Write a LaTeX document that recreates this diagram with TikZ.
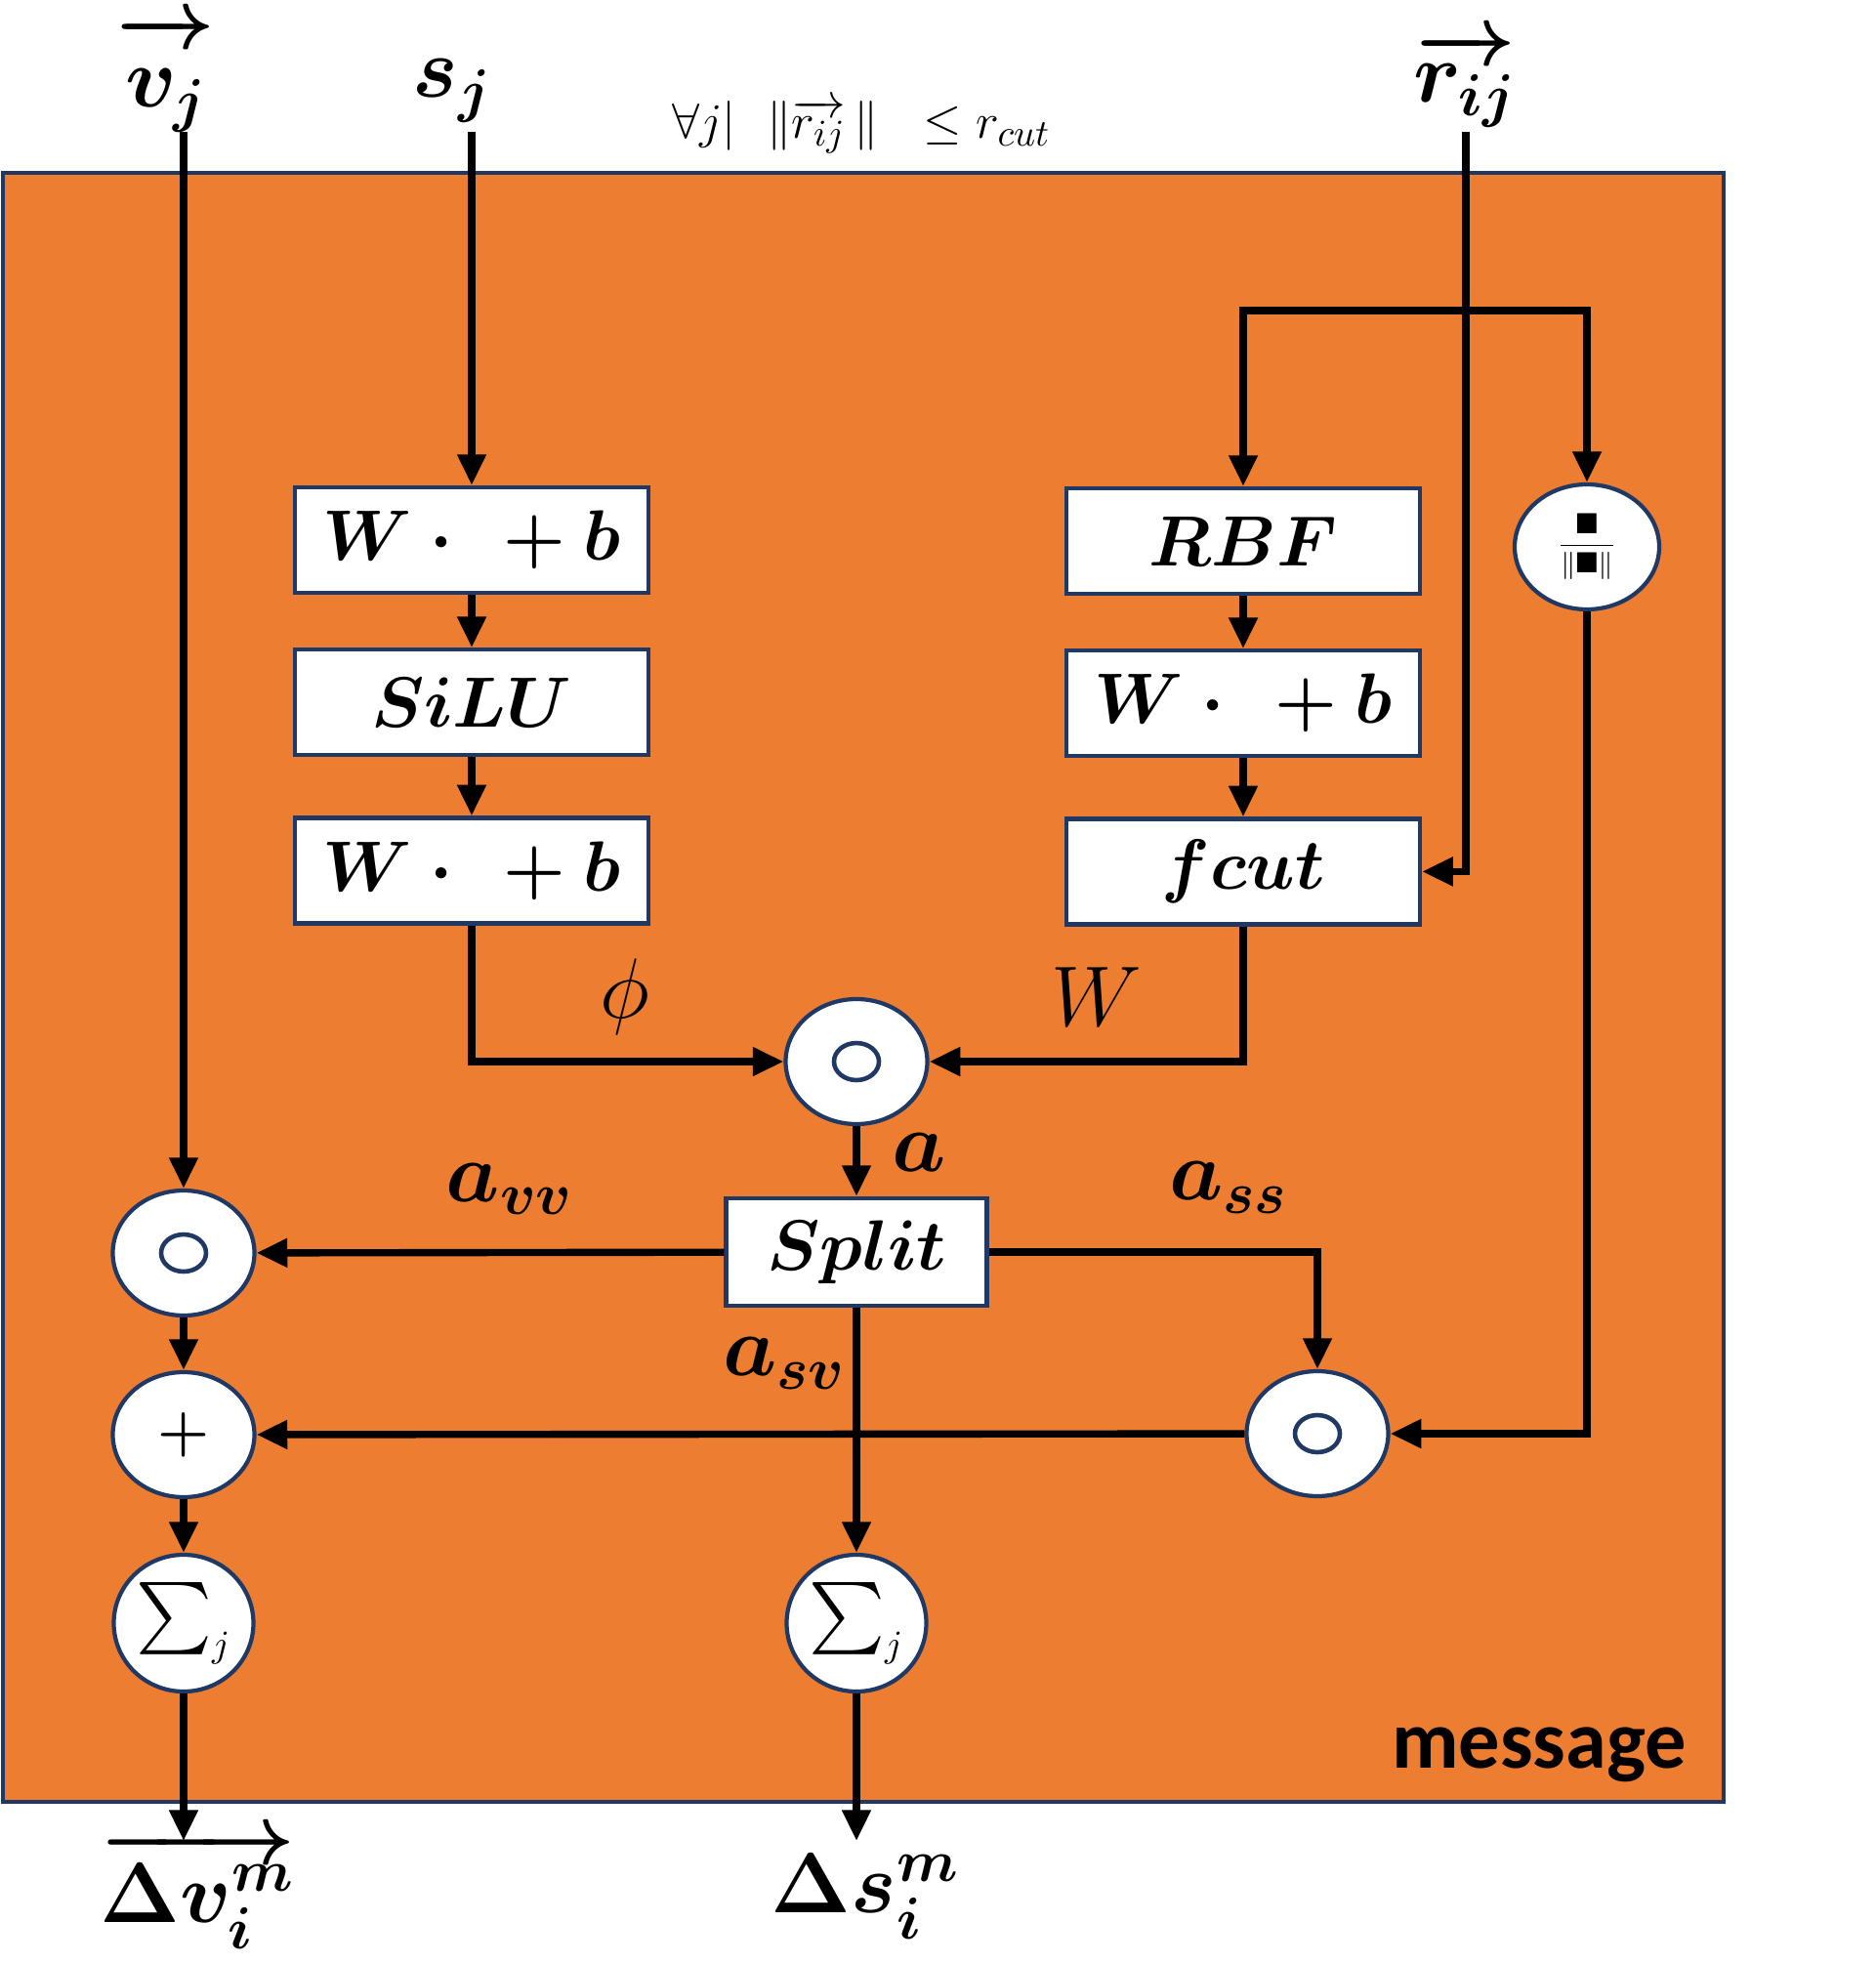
\documentclass[tikz,border=0pt]{standalone}
\usepackage{amsmath, amssymb}
\usepackage{fontspec}
\newfontfamily\msgfont{Carlito}
\usetikzlibrary{arrows.meta, positioning, shapes.geometric}

\definecolor{msgorange}{HTML}{ED7D31}
\definecolor{navy}{HTML}{1F3864}

\begin{document}
\begin{tikzpicture}[
    >={Triangle[length=9pt, width=8pt]},
    block/.style={rectangle, draw=navy, fill=white, line width=1.2pt, minimum width=3.62cm, minimum height=1.08cm, inner sep=0, font=\fontsize{20}{24}\selectfont\boldmath},
    op/.style={ellipse, draw=navy, fill=white, line width=1.2pt, minimum width=1.45cm, minimum height=1.28cm, inner sep=0},
    hadamard/.style={op, path picture={\draw[navy, line width=1.3pt] (path picture bounding box.center) ellipse (0.23cm and 0.19cm);}},
    sumop/.style={op, minimum width=1.43cm, minimum height=1.40cm, font=\fontsize{21}{23}\selectfont},
    flow/.style={line width=2.1pt, ->},
    sym/.style={font=\fontsize{25}{30}\selectfont\boldmath, inner sep=0},
    thin sym/.style={font=\fontsize{25}{30}\selectfont, inner sep=0},
    io sym/.style={font=\fontsize{23}{28}\selectfont\boldmath, inner sep=0, anchor=base}
]
    \useasboundingbox (0,0) rectangle (19.2,-20.1);

    % message block
    \draw[fill=msgorange, draw=navy, line width=1.2pt] (0.03,-1.77) rectangle (17.65,-18.45);
    \node[anchor=base, font=\msgfont\bfseries\fontsize{24}{28}\selectfont] (msg) at (15.76,-18.10) {message};

    % Inputs
    \node[io sym] (vj) at (1.70,-1.10) {$\overrightarrow{\vphantom{b}v_j}$};
    \node[sym, anchor=base] (sj) at (4.63,-1.00) {$s_j$};
    \node[io sym] (rij) at (15.00,-1.05) {$\overrightarrow{r_{ij}}$};
    \node[anchor=base, font=\fontsize{15}{17}\selectfont] (cutoff) at (8.82,-1.42) {$\forall j|\ \ \|\overrightarrow{r_{ij}}\,\|\ \ \le r_{cut}$};
    \coordinate (vin) at (1.88,-1.35);
    \coordinate (sin) at (4.83,-1.35);
    \coordinate (rin) at (15.01,-1.35);
    \coordinate (rsplit) at (15.01,-3.18);

    % Scalar branch
    \node[block] (WbA) at (4.83,-5.53) {$W\cdot{}\,{}+b$};
    \node[block, below=0.54cm of WbA] (SiLU) {$SiLU$};
    \node[block, below=0.60cm of SiLU] (WbB) {$W\cdot{}\,{}+b$};

    % Distance branch
    \node[block] (RBF) at (12.73,-5.54) {$RBF$};
    \node[block, below=0.54cm of RBF] (WbC) {$W\cdot{}\,{}+b$};
    \node[block, below=0.60cm of WbC] (fcut) {$fcut$};
    \node[op, minimum width=1.48cm] (Div) at (16.25,-5.60) {\fontsize{8.5}{10}\selectfont$\dfrac{\blacksquare}{\|\blacksquare\|}$};

    % Products, split and sums
    \node[hadamard] (Had) at (8.77,-10.87) {};
    \node[block, minimum width=2.67cm, minimum height=1.10cm, font=\fontsize{21}{24}\selectfont\boldmath] (Split) at (8.77,-12.82) {$Split$};
    \node[hadamard] (HadV) at (1.88,-12.83) {};
    \node[op, font=\fontsize{18}{20}\selectfont\boldmath] (Plus) at (1.88,-14.69) {$+$};
    \node[hadamard] (HadS) at (13.49,-14.68) {};
    \node[sumop] (SumV) at (1.88,-16.62) {$\sum\nolimits_{\scriptscriptstyle j}$};
    \node[sumop] (SumS) at (8.77,-16.62) {$\sum\nolimits_{\scriptscriptstyle j}$};
    \coordinate (vout) at (1.88,-18.85);
    \coordinate (sout) at (8.77,-18.85);

    % Labels
    \node[thin sym] (phi) at (6.40,-10.21) {$\phi$};
    \node[thin sym] (Wlbl) at (11.23,-10.21) {$W$};
    \node[sym] (albl) at (9.41,-11.80) {$a$};
    \node[sym] (avv) at (5.22,-12.18) {$a_{vv}$};
    \node[sym] (ass) at (12.58,-12.16) {$a_{ss}$};
    \node[sym] (asv) at (8.03,-13.96) {$a_{sv}$};

    % Outputs
    \node[io sym] (dv) at (2.02,-19.68) {$\overrightarrow{\Delta v_i^m}$};
    \node[io sym] (ds) at (8.86,-19.58) {$\Delta s_i^m$};

    % Connectors
    \draw[flow] (vin) -- (HadV);
    \draw[flow] (sin) -- (WbA);
    \draw[flow] (rin) |- (fcut);
    \draw[flow] (rsplit) -| (RBF);
    \draw[flow] (rsplit) -| (Div);
    \draw[flow] (WbA) -- (SiLU);
    \draw[flow] (SiLU) -- (WbB);
    \draw[flow] (RBF) -- (WbC);
    \draw[flow] (WbC) -- (fcut);
    \draw[flow] (WbB) |- (Had);
    \draw[flow] (fcut) |- (Had);
    \draw[flow] (Had) -- (Split);
    \draw[flow] (Split) -- (HadV);
    \draw[flow] (Split) -| (HadS);
    \draw[flow] (Split) -- (SumS);
    \draw[flow] (Div) |- (HadS);
    \draw[flow] (HadS) -- (Plus);
    \draw[flow] (HadV) -- (Plus);
    \draw[flow] (Plus) -- (SumV);
    \draw[flow] (SumV) -- (vout);
    \draw[flow] (SumS) -- (sout);

\end{tikzpicture}
\end{document}
